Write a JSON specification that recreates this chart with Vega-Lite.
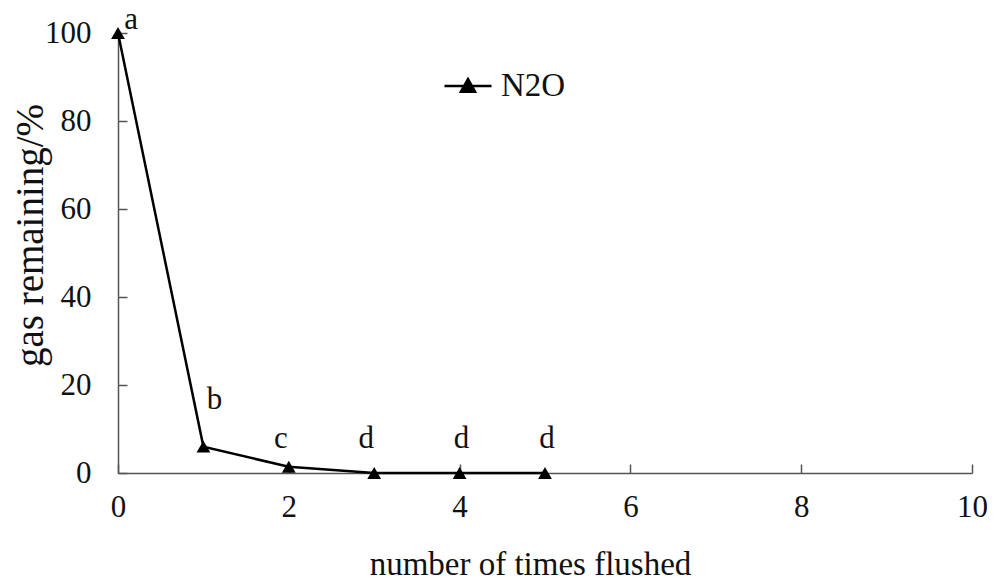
{
  "$schema": "https://vega.github.io/schema/vega-lite/v6.json",
  "width": 854,
  "height": 440,
  "autosize": {"type": "none"},
  "padding": {"left": 118, "top": 33, "right": 23, "bottom": 113},
  "background": "white",
  "config": {"view": {"stroke": null}, "font": "Liberation Serif"},
  "data": {"values": [
    {"x": 0, "y": 100, "label": "a", "series": "N2O"},
    {"x": 1, "y": 6, "label": "b", "series": "N2O"},
    {"x": 2, "y": 1.4, "label": "c", "series": "N2O"},
    {"x": 3, "y": 0, "label": "d", "series": "N2O"},
    {"x": 4, "y": 0, "label": "d", "series": "N2O"},
    {"x": 5, "y": 0, "label": "d", "series": "N2O"}
  ]},
  "encoding": {
    "x": {"field": "x", "type": "quantitative",
      "scale": {"domain": [0, 10], "nice": false},
      "axis": {"values": [0, 2, 4, 6, 8, 10], "grid": false, "title": "number of times flushed",
        "titleFont": "Liberation Serif", "titleFontSize": 33, "titleFontWeight": "normal", "titleColor": "#111",
        "titleX": 412, "titleY": 91, "titleBaseline": "middle", "titleAlign": "center",
        "labelFont": "Liberation Serif", "labelFontSize": 31, "labelColor": "#111", "labelPadding": 28, "labelFlush": false,
        "tickSize": -9, "tickColor": "#555", "domainColor": "#555", "domainWidth": 1.5, "tickWidth": 1.5}},
    "y": {"field": "y", "type": "quantitative",
      "scale": {"domain": [0, 100], "nice": false},
      "axis": {"values": [0, 20, 40, 60, 80, 100], "grid": false, "title": "gas remaining/%",
        "titleFont": "Liberation Serif", "titleFontSize": 39, "titleFontWeight": "normal", "titleColor": "#111",
        "titleX": -88, "titleY": 202, "titleBaseline": "middle", "titleAlign": "center", "titleAngle": 270,
        "labelFont": "Liberation Serif", "labelFontSize": 31, "labelColor": "#111", "labelPadding": 36, "labelFlush": false,
        "tickSize": -9, "tickColor": "#555", "domainColor": "#555", "domainWidth": 1.5, "tickWidth": 1.5}}
  },
  "layer": [
    {"mark": {"type": "line", "strokeWidth": 2.5},
     "encoding": {"color": {"field": "series", "type": "nominal", "title": null,
        "scale": {"range": ["black"]},
        "legend": {"orient": "none", "legendX": 325, "legendY": 28,
          "symbolType": "M-1,0H1M-0.3,0.24L0,-0.3L0.3,0.24Z", "symbolSize": 2209,
          "symbolStrokeWidth": 2.5, "symbolFillColor": "black", "symbolStrokeColor": "black",
          "labelFont": "Liberation Serif", "labelFontSize": 33, "labelColor": "#111", "labelOffset": 8,
          "encode": {"symbols": {"update": {"fill": {"value": "black"}, "stroke": {"value": "black"}}}}}}}},
    {"mark": {"type": "point", "shape": "triangle-up", "filled": true, "color": "black", "size": 190, "opacity": 1}},
    {"transform": [{"filter": "datum.label == 'a'"}],
     "mark": {"type": "text", "font": "Liberation Serif", "fontSize": 31, "color": "#111", "baseline": "alphabetic", "dx": 13, "dy": -4},
     "encoding": {"text": {"field": "label"}}},
    {"transform": [{"filter": "datum.label == 'b'"}],
     "mark": {"type": "text", "font": "Liberation Serif", "fontSize": 31, "color": "#111", "baseline": "alphabetic", "dx": 11, "dy": -38},
     "encoding": {"text": {"field": "label"}}},
    {"transform": [{"filter": "datum.label == 'c'"}],
     "mark": {"type": "text", "font": "Liberation Serif", "fontSize": 31, "color": "#111", "baseline": "alphabetic", "dx": -8, "dy": -19},
     "encoding": {"text": {"field": "label"}}},
    {"transform": [{"filter": "datum.x == 3"}],
     "mark": {"type": "text", "font": "Liberation Serif", "fontSize": 31, "color": "#111", "baseline": "alphabetic", "dx": -8, "dy": -25},
     "encoding": {"text": {"field": "label"}}},
    {"transform": [{"filter": "datum.x >= 4"}],
     "mark": {"type": "text", "font": "Liberation Serif", "fontSize": 31, "color": "#111", "baseline": "alphabetic", "dx": 2, "dy": -25},
     "encoding": {"text": {"field": "label"}}}
  ]
}
